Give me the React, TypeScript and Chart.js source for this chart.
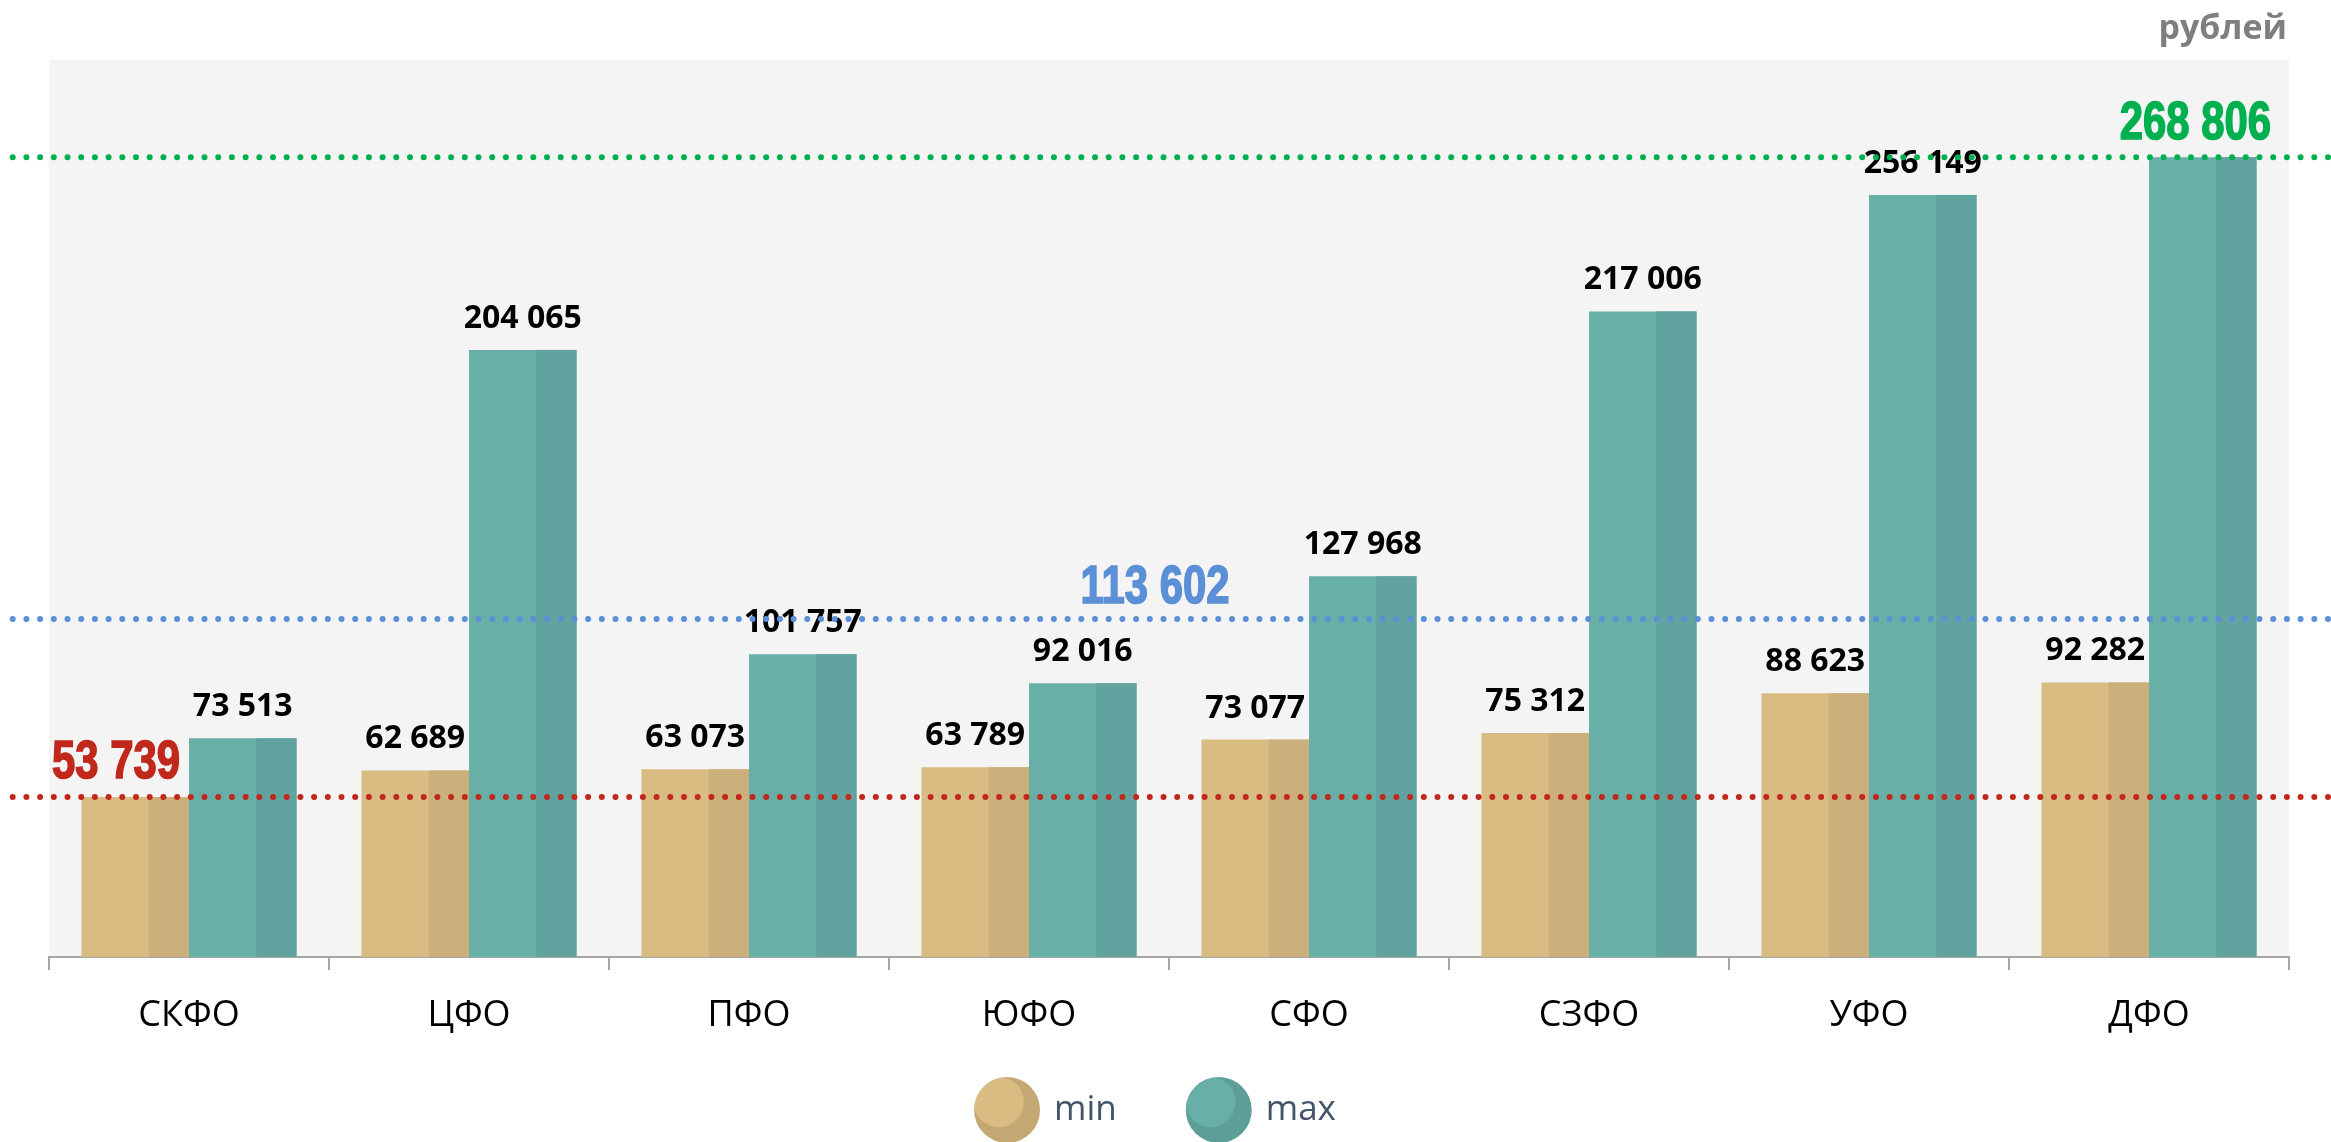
import React, { useEffect, useRef } from "react";
import { Chart, registerables } from "chart.js";

Chart.register(...registerables);

// ---- data ----
const categories = ["СКФО", "ЦФО", "ПФО", "ЮФО", "СФО", "СЗФО", "УФО", "ДФО"];
const seriesNames = ["min", "max"];
const minValues = [53739, 62689, 63073, 63789, 73077, 75312, 88623, 92282];
const maxValues = [73513, 204065, 101757, 92016, 127968, 217006, 256149, 268806];
const refValues = [53739, 113602, 268806];
const refLabels = ["53 739", "113 602", "268 806"];
const unitLabel = "рублей";

// ---- styles ----
const lightColors = ["#D9BC82", "#68AFA8"];
const darkColors = ["#CBB07B", "#61A39E"];
const legendDark = ["#C4A873", "#5E9E99"];
const refColors = ["#C0281B", "#5B8FD6", "#00B050"];

const fmt = (v: number) => String(v).replace(/\B(?=(\d{3})+(?!\d))/g, " ");

function drawCondensed(ctx: any, text: string, x: number, y: number, align: string, sx: number) {
  const w = ctx.measureText(text).width * sx;
  let left = x;
  if (align === "center") left = x - w / 2;
  else if (align === "right") left = x - w;
  ctx.save();
  ctx.translate(left, y);
  ctx.scale(sx, 1);
  ctx.textAlign = "left";
  ctx.lineWidth = 1.6;
  ctx.strokeStyle = ctx.fillStyle;
  ctx.fillText(text, 0, 0);
  ctx.strokeText(text, 0, 0);
  ctx.restore();
}

const decorPlugin = {
  id: "decor",
  beforeDraw(chart: any) {
    const { ctx, chartArea: a } = chart;
    ctx.save();
    ctx.fillStyle = "#F4F4F4";
    ctx.fillRect(a.left, a.top, a.right - a.left, a.bottom - a.top);
    ctx.restore();
  },
  afterDatasetsDraw(chart: any) {
    const { ctx, chartArea: a } = chart;
    const yScale = chart.scales.y;
    ctx.save();
    // darker right part of each bar
    chart.data.datasets.forEach((ds: any, di: number) => {
      const meta = chart.getDatasetMeta(di);
      meta.data.forEach((bar: any) => {
        const { x, y, base, width } = bar.getProps(["x", "y", "base", "width"], true);
        const left = x - width / 2;
        ctx.fillStyle = darkColors[di];
        ctx.fillRect(left + width * 0.625, y, width * 0.375, base - y);
      });
    });
    // data labels
    ctx.font = "bold 32px 'Open Sans', sans-serif";
    ctx.fillStyle = "#000";
    ctx.textAlign = "center";
    ctx.textBaseline = "alphabetic";
    chart.data.datasets.forEach((ds: any, di: number) => {
      const meta = chart.getDatasetMeta(di);
      meta.data.forEach((bar: any, i: number) => {
        if (di === 0 && i === 0) return; // covered by reference label
        if (di === 1 && i === 7) return;
        const { x, y } = bar.getProps(["x", "y"], true);
        ctx.fillText(fmt(ds.data[i]), x, y - 22);
      });
    });
    // dotted reference lines
    ctx.lineCap = "round";
    ctx.lineWidth = 6;
    ctx.setLineDash([0, 13.7]);
    refValues.forEach((v, k) => {
      const yy = yScale.getPixelForValue(v);
      ctx.strokeStyle = refColors[k];
      ctx.beginPath();
      ctx.moveTo(12.7, yy);
      ctx.lineTo(chart.width, yy);
      ctx.stroke();
    });
    ctx.setLineDash([]);
    // reference labels
    ctx.font = "bold 53px 'Liberation Sans', Arial, sans-serif";
    const xScale = chart.scales.x;
    const sx = 0.79;
    refValues.forEach((v, k) => {
      const yy = yScale.getPixelForValue(v);
      ctx.fillStyle = refColors[k];
      if (k === 0) {
        drawCondensed(ctx, refLabels[k], a.left + 3, yy - 19, "left", sx);
      } else if (k === 1) {
        drawCondensed(ctx, refLabels[k], xScale.getPixelForValue(3.45), yy - 16, "center", sx);
      } else {
        drawCondensed(ctx, refLabels[k], a.right - 18, yy - 18, "right", sx);
      }
    });
    ctx.restore();
  },
  afterDraw(chart: any) {
    const { ctx, chartArea: a } = chart;
    ctx.save();
    // unit label
    ctx.font = "bold 34px 'Open Sans', sans-serif";
    ctx.fillStyle = "#7F7F7F";
    ctx.textAlign = "right";
    ctx.textBaseline = "alphabetic";
    ctx.fillText(unitLabel, a.right - 2, a.top - 21);

    // legend
    ctx.font = "35px 'Open Sans', sans-serif";
    const r = 33;
    const gapText = 14;
    const gapItem = 69;
    const widths = seriesNames.map((n) => ctx.measureText(n).width);
    const total = widths.reduce((s, w) => s + 2 * r + gapText + w, 0) + gapItem;
    let x = (a.left + a.right) / 2 - 14 - total / 2;
    const cy = 1110;
    seriesNames.forEach((n, i) => {
      const cx = x + r;
      ctx.save();
      ctx.beginPath();
      ctx.arc(cx, cy, r, 0, Math.PI * 2);
      ctx.fillStyle = legendDark[i];
      ctx.fill();
      ctx.clip();
      ctx.beginPath();
      ctx.arc(cx - 0.25 * r, cy - 0.24 * r, 0.76 * r, 0, Math.PI * 2);
      ctx.fillStyle = lightColors[i];
      ctx.fill();
      ctx.restore();
      ctx.fillStyle = "#44546A";
      ctx.textAlign = "left";
      ctx.textBaseline = "middle";
      ctx.fillText(n, x + 2 * r + gapText, cy);
      x += 2 * r + gapText + widths[i] + gapItem;
    });
    ctx.restore();
  },
};

export default function App() {
  const ref = useRef<HTMLCanvasElement | null>(null);
  useEffect(() => {
    if (!ref.current) return;
    const chart = new Chart(ref.current, {
      type: "bar",
      data: {
        labels: categories,
        datasets: [
          { label: seriesNames[0], data: minValues, backgroundColor: lightColors[0], borderWidth: 0 },
          { label: seriesNames[1], data: maxValues, backgroundColor: lightColors[1], borderWidth: 0 },
        ],
      },
      options: {
        responsive: false,
        animation: false,
        devicePixelRatio: 1,
        layout: { padding: { left: 49, right: 42, top: 60, bottom: 85 } },
        datasets: { bar: { categoryPercentage: 0.768, barPercentage: 1.0 } },
        plugins: { legend: { display: false }, tooltip: { enabled: false } },
        scales: {
          y: { display: false, min: 0, max: 301500 },
          x: {
            offset: true,
            grid: {
              display: true,
              drawOnChartArea: false,
              drawTicks: true,
              tickLength: 13,
              color: "#A6A6A6",
              lineWidth: 2,
              offset: true,
            },
            border: { display: true, color: "#A6A6A6", width: 2 },
            ticks: {
              font: { family: "'Open Sans', sans-serif", size: 36 },
              color: "#000",
              padding: 24,
              maxRotation: 0,
            },
            afterFit: (s: any) => {
              s.height = 100;
            },
          },
        },
      },
      plugins: [decorPlugin],
    } as any);
    return () => chart.destroy();
  }, []);
  return (
    <div style={{ position: "fixed", left: 0, top: 0, width: 2331, height: 1142, background: "#fff" }}>
      <canvas ref={ref} width={2331} height={1142} style={{ display: "block" }} />
    </div>
  );
}
